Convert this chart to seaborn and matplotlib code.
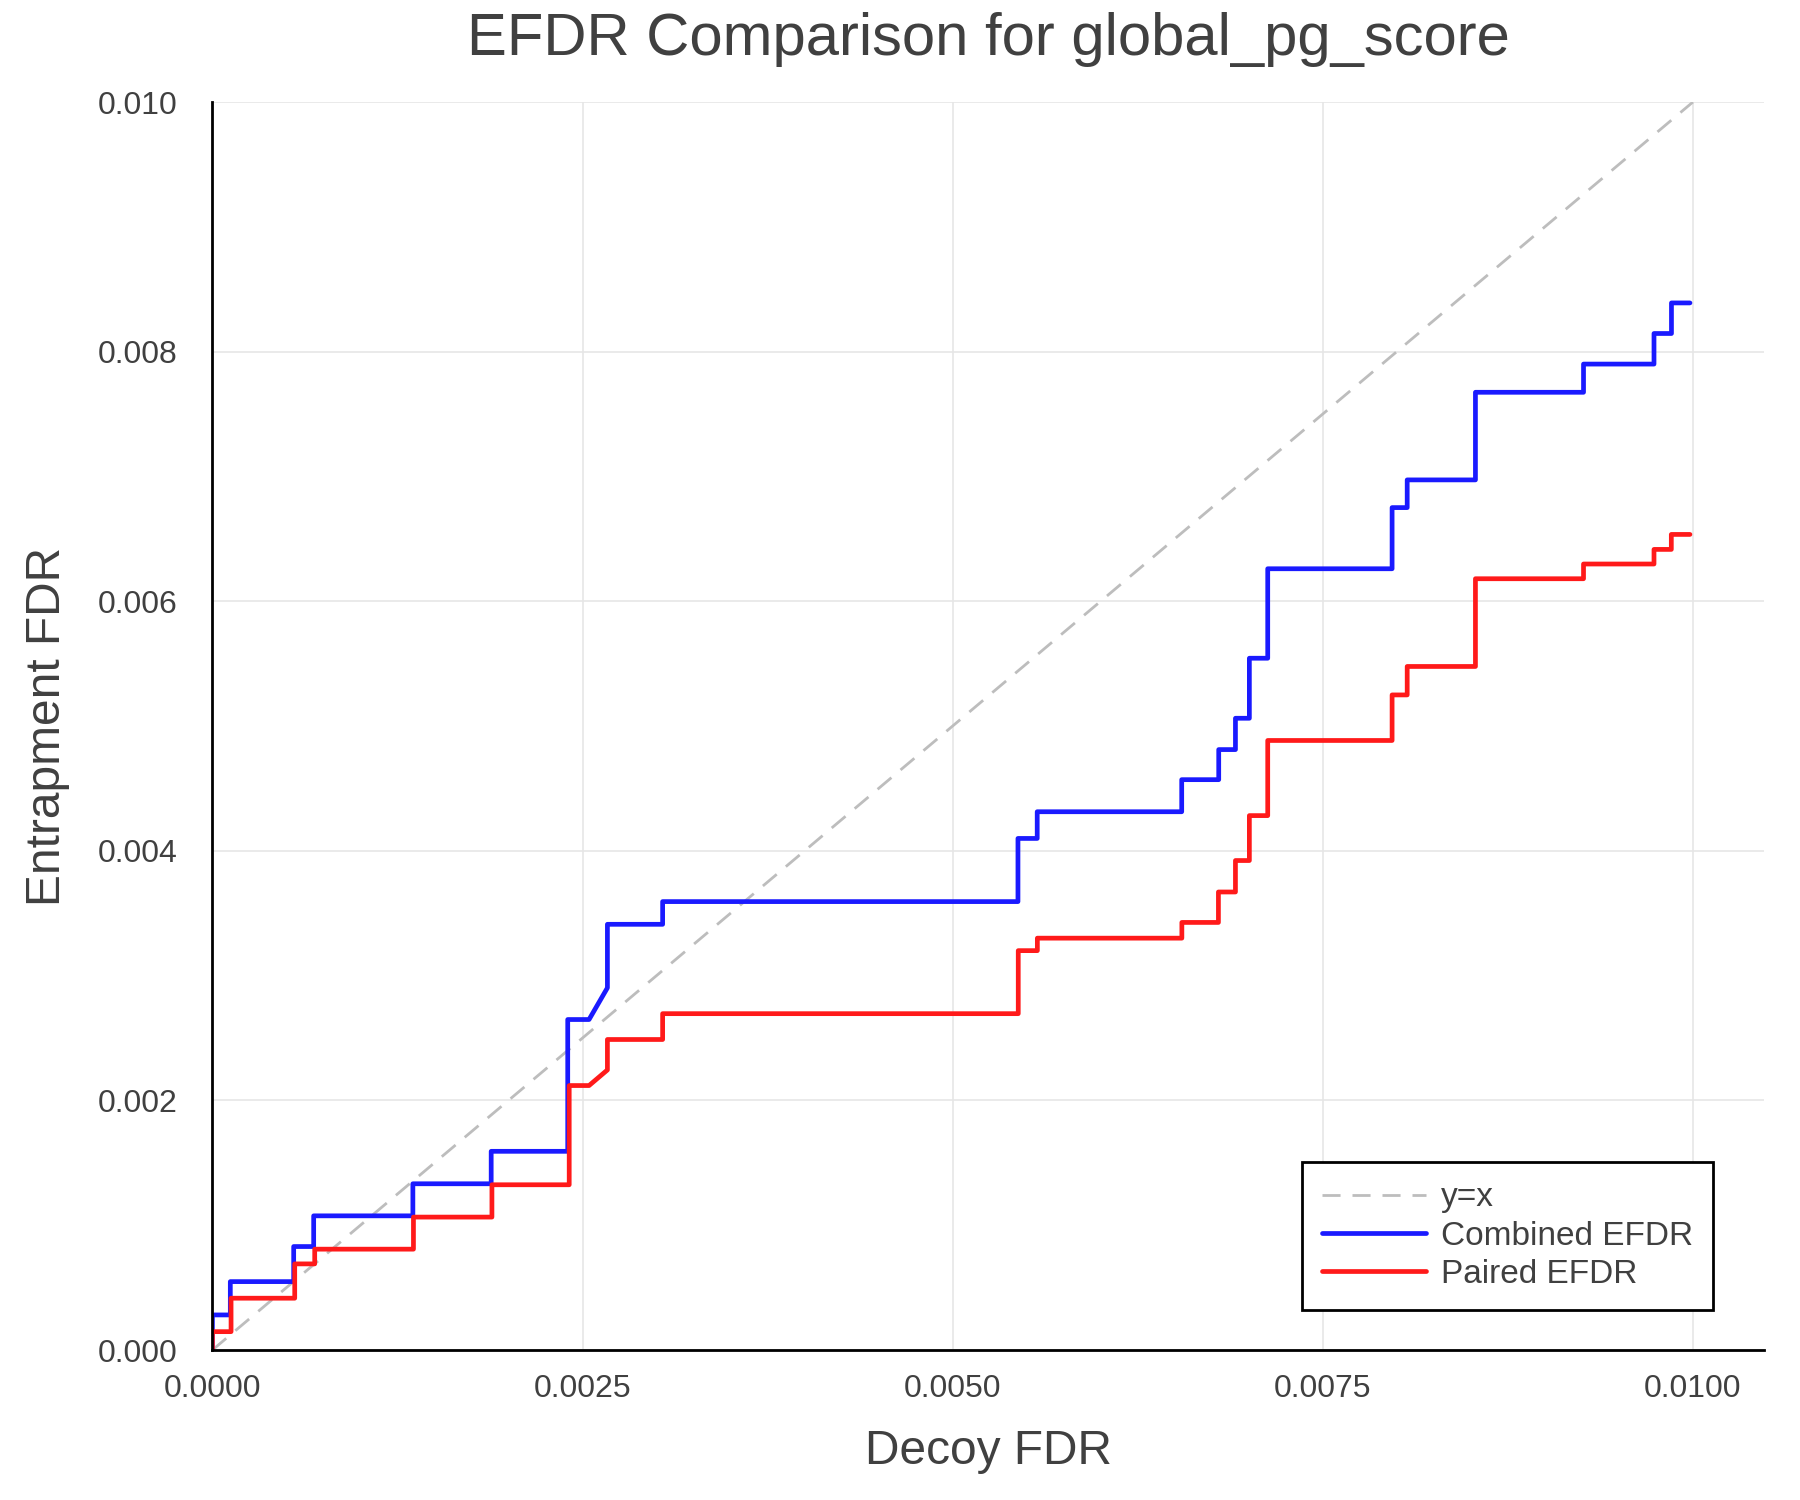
import matplotlib
matplotlib.use("Agg")
import matplotlib.pyplot as plt
from matplotlib.ticker import FormatStrFormatter
import numpy as np
import pandas as pd
import seaborn as sns

# step vertices (decoy FDR, entrapment FDR)
combined_x = [0.0, 0.0, 0.000121, 0.000121, 0.000549, 0.000549, 0.000684, 0.000684,
              0.001354, 0.001354, 0.001883, 0.001883, 0.002400, 0.002400, 0.002544,
              0.002668, 0.002668, 0.003041, 0.003041, 0.005441, 0.005441, 0.005571,
              0.005571, 0.006547, 0.006547, 0.006797, 0.006797, 0.006910, 0.006910,
              0.007004, 0.007004, 0.007128, 0.007128, 0.007968, 0.007968, 0.008070,
              0.008070, 0.008531, 0.008531, 0.009261, 0.009261, 0.009737, 0.009737,
              0.009855, 0.009855, 0.009980]
combined_y = [0.0, 0.000281, 0.000281, 0.000548, 0.000548, 0.000829, 0.000829, 0.001075,
              0.001075, 0.001332, 0.001332, 0.001592, 0.001592, 0.002648, 0.002648,
              0.002902, 0.003411, 0.003411, 0.003593, 0.003593, 0.004099, 0.004099,
              0.004313, 0.004313, 0.004570, 0.004570, 0.004811, 0.004811, 0.005062,
              0.005062, 0.005543, 0.005543, 0.006260, 0.006260, 0.006750, 0.006750,
              0.006972, 0.006972, 0.007674, 0.007674, 0.007900, 0.007900, 0.008145,
              0.008145, 0.008390, 0.008390]

paired_x = [0.0, 0.0, 0.000126, 0.000126, 0.000556, 0.000556, 0.000691, 0.000691,
            0.001358, 0.001358, 0.001888, 0.001888, 0.002410, 0.002410, 0.002544,
            0.002668, 0.002668, 0.003041, 0.003041, 0.005443, 0.005443, 0.005572,
            0.005572, 0.006548, 0.006548, 0.006795, 0.006795, 0.006910, 0.006910,
            0.007004, 0.007004, 0.007128, 0.007128, 0.007968, 0.007968, 0.008070,
            0.008070, 0.008531, 0.008531, 0.009261, 0.009261, 0.009737, 0.009737,
            0.009854, 0.009854, 0.009980]
paired_y = [0.0, 0.000147, 0.000147, 0.000415, 0.000415, 0.000690, 0.000690, 0.000808,
            0.000808, 0.001065, 0.001065, 0.001324, 0.001324, 0.002119, 0.002119,
            0.002244, 0.002488, 0.002488, 0.002695, 0.002695, 0.003200, 0.003200,
            0.003300, 0.003300, 0.003426, 0.003426, 0.003670, 0.003670, 0.003922,
            0.003922, 0.004282, 0.004282, 0.004884, 0.004884, 0.005249, 0.005249,
            0.005477, 0.005477, 0.006180, 0.006180, 0.006298, 0.006298, 0.006415,
            0.006415, 0.006535, 0.006535]

diag = [0.0, 0.01]

x_ticks = [0.0, 0.0025, 0.005, 0.0075, 0.01]
y_ticks = [0.0, 0.002, 0.004, 0.006, 0.008, 0.010]

sns.set_style("white")
plt.rcParams['font.family'] = ['Liberation Sans', 'DejaVu Sans']

text_color = '#404040'

fig, ax = plt.subplots(figsize=(18, 15), dpi=100)
fig.subplots_adjust(left=0.118, right=0.98, bottom=0.1, top=0.932)

sns.lineplot(x=diag, y=diag, ax=ax, color='#bdbdbd', linewidth=2,
             linestyle=(0, (6.5, 4.3)), label='y=x')
sns.lineplot(x=combined_x, y=combined_y, ax=ax, sort=False, estimator=None,
             color='#1a1aff', linewidth=3.4, label='Combined EFDR')
sns.lineplot(x=paired_x, y=paired_y, ax=ax, sort=False, estimator=None,
             color='#ff1a1a', linewidth=3.4, label='Paired EFDR')

ax.set_xlim(0, 0.01048)
ax.set_ylim(0, 0.010)
ax.set_xticks(x_ticks)
ax.set_yticks(y_ticks)
ax.xaxis.set_major_formatter(FormatStrFormatter('%.4f'))
ax.yaxis.set_major_formatter(FormatStrFormatter('%.3f'))

ax.grid(True, color='#e6e6e6', linewidth=1.2)
ax.set_axisbelow(True)

for side in ['top', 'right']:
    ax.spines[side].set_visible(False)
for side in ['left', 'bottom']:
    ax.spines[side].set_color('black')
    ax.spines[side].set_linewidth(2)

ax.tick_params(axis='both', direction='in', length=11, width=2, color='black',
               labelsize=23, labelcolor=text_color)
ax.tick_params(axis='y', pad=25)
ax.tick_params(axis='x', pad=17)

ax.set_title('EFDR Comparison for global_pg_score', fontsize=43,
             color=text_color, pad=34)
ax.set_xlabel('Decoy FDR', fontsize=34.5, color=text_color, labelpad=18)
ax.set_ylabel('Entrapment FDR', fontsize=34.5, color=text_color, labelpad=20)

leg = ax.legend(loc='lower right', bbox_to_anchor=(0.967, 0.032), borderaxespad=0,
                fontsize=24, fancybox=False, framealpha=1, edgecolor='black',
                handlelength=3.1, labelspacing=0.22, borderpad=0.6,
                handletextpad=0.45)
leg.get_frame().set_linewidth(2)
for t in leg.get_texts():
    t.set_color(text_color)

fig.savefig('out.png', dpi=100)
